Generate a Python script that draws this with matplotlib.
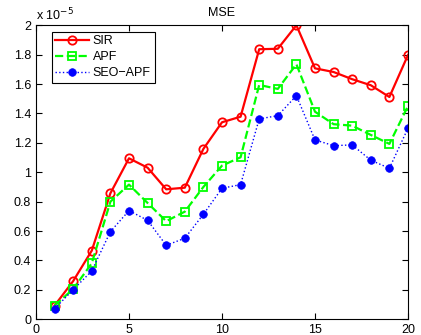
import numpy as np
import matplotlib
matplotlib.use("Agg")
import matplotlib.pyplot as plt
import matplotlib.ticker as ticker

plt.rcParams['font.family'] = ['Liberation Sans', 'DejaVu Sans']

# MSE values, in units of 1e-5
steps = np.arange(1, 21)
sir = [0.093, 0.26, 0.467, 0.857, 1.095, 1.031, 0.884, 0.895, 1.159, 1.34,
       1.378, 1.837, 1.84, 2.0, 1.707, 1.682, 1.633, 1.592, 1.512, 1.798]
apf = [0.093, 0.206, 0.381, 0.80, 0.916, 0.791, 0.667, 0.732, 0.90, 1.045,
       1.102, 1.594, 1.567, 1.735, 1.412, 1.327, 1.317, 1.254, 1.193, 1.451]
seo = [0.072, 0.201, 0.329, 0.596, 0.739, 0.673, 0.503, 0.551, 0.714, 0.891,
       0.916, 1.363, 1.385, 1.521, 1.22, 1.181, 1.186, 1.082, 1.027, 1.30]

fig = plt.figure(figsize=(4.21, 3.35), dpi=100)
ax = fig.add_axes([0.0855, 0.047, 0.8836, 0.8776])

ax.plot(steps, sir, 'o-', color=(1, 0, 0), lw=1.6, ms=6, mfc='none', mew=1.3, label='SIR')
ax.plot(steps, apf, 's--', color=(0, 1, 0), lw=1.6, ms=5.5, mfc='none', mew=1.3, label='APF')
ax.plot(steps, seo, 'o:', color=(0, 0, 1), lw=1.0, ms=5.5, mfc=(0, 0, 1), mew=0.5,
        label='SEO\u2212APF')

ax.set_xlim(0, 20)
ax.set_ylim(0, 2)
ax.set_xticks([0, 5, 10, 15, 20])
ax.set_yticks(np.arange(0, 2.01, 0.2))
ax.yaxis.set_major_formatter(ticker.FuncFormatter(lambda v, p: '%g' % round(v, 1)))
ax.tick_params(direction='in', top=True, right=True, labelsize=9, length=4, width=0.8)
for s in ax.spines.values():
    s.set_linewidth(0.8)

ax.set_title('MSE', fontsize=9, pad=7)
ax.text(0.0, 1.006, r'x 10$^{-5}$', transform=ax.transAxes, fontsize=9, ha='left', va='bottom')

leg = ax.legend(loc='upper left', bbox_to_anchor=(0.042, 0.978), borderaxespad=0,
                fontsize=9, numpoints=1, handlelength=2.7, fancybox=False, framealpha=1,
                edgecolor='black', borderpad=0.3, labelspacing=0.3, handletextpad=0.3)
leg.get_frame().set_linewidth(0.8)

fig.savefig('out.png', dpi=100)
